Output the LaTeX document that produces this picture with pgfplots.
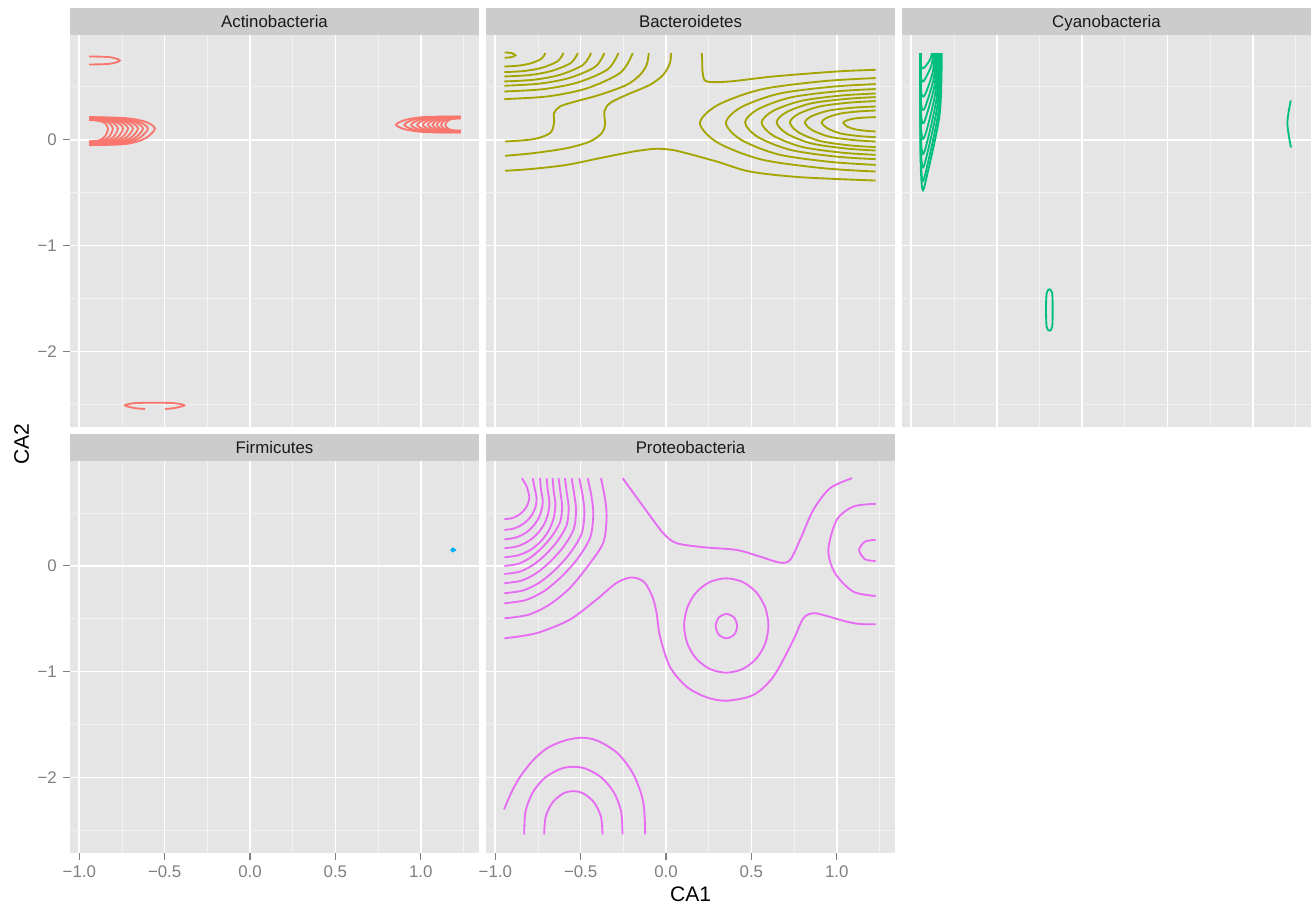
\documentclass[border=0pt]{standalone}
\usepackage{fontspec}
\setmainfont{Liberation Sans}
\usepackage{pgfplots}
\pgfplotsset{compat=1.18}
\definecolor{bg}{HTML}{E5E5E5}
\definecolor{stripc}{HTML}{CCCCCC}
\definecolor{minorg}{HTML}{F2F2F2}
\definecolor{tickc}{HTML}{7F7F7F}
\definecolor{cA}{HTML}{F8766D}
\definecolor{cB}{HTML}{A3A500}
\definecolor{cC}{HTML}{00BF7D}
\definecolor{cF}{HTML}{00B0F6}
\definecolor{cP}{HTML}{E76BF3}
\pgfplotsset{
 facet/.style={
  scale only axis, width=233.13pt, height=223.44pt,
  anchor=south west,
  xmin=-1.0545, xmax=1.3415, ymin=-2.712, ymax=0.994,
  axis background/.style={fill=bg},
  axis line style={draw=none},
  xtick={-1,-0.5,0,0.5,1}, ytick={-2,-1,0},
  minor xtick={-0.75,-0.25,0.25,0.75,1.25},
  minor ytick={-2.5,-1.5,-0.5,0.5},
  grid=both,
  major grid style={white, line width=0.95pt},
  minor grid style={minorg, line width=0.5pt},
  tick align=outside,
  major tick length=4pt, minor tick length=0pt,
  tick style={tickc, line width=0.6pt},
  tick pos=left,
  xticklabels={}, yticklabels={},
  ticklabel style={font=\fontsize{9.6}{11}\selectfont, text=tickc},
 },
 noxt/.style={xtick style={draw=none}},
 noyt/.style={ytick style={draw=none}},
 xlab/.style={xticklabels={−1.0,−0.5,0.0,0.5,1.0}},
 ylab/.style={yticklabels={−2,−1,0}},
 pA/.style={cA, smooth, no markers, line width=1.05pt},
 pB/.style={cB, smooth, no markers, line width=1.05pt},
 pC/.style={cC, smooth, no markers, line width=1.05pt},
 pP/.style={cP, smooth, no markers, line width=1.05pt},
}
\begin{document}
\begin{tikzpicture}
\useasboundingbox (0,0) rectangle (748.41pt,518.13pt);

% ---------------- Actinobacteria ----------------
\begin{axis}[facet, noxt, ylab, at={(39.9pt,274.91pt)}]
\addplot[pA] coordinates {(-0.943,0.788)(-0.82,0.781)(-0.762,0.75)(-0.82,0.719)(-0.943,0.712)};
\addplot[pA] coordinates {(-0.943,0.215)(-0.731,0.205)(-0.615,0.172)(-0.557,0.107)(-0.615,0.013)(-0.731,-0.040)(-0.943,-0.050)};
\addplot[pA] coordinates {(-0.943,0.212)(-0.753,0.202)(-0.650,0.170)(-0.598,0.107)(-0.650,0.015)(-0.753,-0.036)(-0.943,-0.046)};
\addplot[pA] coordinates {(-0.943,0.209)(-0.769,0.199)(-0.674,0.168)(-0.627,0.107)(-0.674,0.018)(-0.769,-0.032)(-0.943,-0.042)};
\addplot[pA] coordinates {(-0.943,0.206)(-0.785,0.196)(-0.699,0.166)(-0.656,0.107)(-0.699,0.020)(-0.785,-0.028)(-0.943,-0.038)};
\addplot[pA] coordinates {(-0.943,0.203)(-0.802,0.193)(-0.725,0.165)(-0.686,0.107)(-0.725,0.022)(-0.802,-0.024)(-0.943,-0.034)};
\addplot[pA] coordinates {(-0.943,0.200)(-0.818,0.190)(-0.749,0.163)(-0.715,0.107)(-0.749,0.025)(-0.818,-0.020)(-0.943,-0.030)};
\addplot[pA] coordinates {(-0.943,0.197)(-0.834,0.187)(-0.774,0.161)(-0.744,0.107)(-0.774,0.027)(-0.834,-0.016)(-0.943,-0.026)};
\addplot[pA] coordinates {(-0.943,0.194)(-0.850,0.184)(-0.799,0.159)(-0.774,0.107)(-0.799,0.030)(-0.850,-0.012)(-0.943,-0.022)};
\addplot[pA] coordinates {(-0.943,0.191)(-0.866,0.181)(-0.824,0.157)(-0.803,0.107)(-0.824,0.032)(-0.866,-0.008)(-0.943,-0.018)};
\addplot[pA] coordinates {(-0.943,0.188)(-0.882,0.178)(-0.849,0.156)(-0.832,0.107)(-0.849,0.034)(-0.882,-0.004)(-0.943,-0.014)};
\addplot[pA] coordinates {(1.234,0.220)(1.026,0.216)(0.912,0.189)(0.855,0.142)(0.912,0.098)(1.026,0.073)(1.234,0.069)};
\addplot[pA] coordinates {(1.234,0.218)(1.052,0.214)(0.953,0.188)(0.904,0.142)(0.953,0.099)(1.052,0.075)(1.234,0.071)};
\addplot[pA] coordinates {(1.234,0.216)(1.074,0.212)(0.987,0.186)(0.944,0.142)(0.987,0.100)(1.074,0.077)(1.234,0.073)};
\addplot[pA] coordinates {(1.234,0.214)(1.094,0.210)(1.017,0.185)(0.979,0.142)(1.017,0.102)(1.094,0.079)(1.234,0.075)};
\addplot[pA] coordinates {(1.234,0.212)(1.112,0.208)(1.045,0.184)(1.012,0.142)(1.045,0.103)(1.112,0.081)(1.234,0.077)};
\addplot[pA] coordinates {(1.234,0.210)(1.128,0.206)(1.071,0.183)(1.042,0.142)(1.071,0.104)(1.128,0.083)(1.234,0.079)};
\addplot[pA] coordinates {(1.234,0.208)(1.143,0.204)(1.094,0.182)(1.069,0.142)(1.094,0.105)(1.143,0.085)(1.234,0.081)};
\addplot[pA] coordinates {(1.234,0.206)(1.157,0.202)(1.115,0.180)(1.094,0.142)(1.115,0.107)(1.157,0.087)(1.234,0.083)};
\addplot[pA] coordinates {(1.234,0.204)(1.171,0.200)(1.136,0.179)(1.119,0.142)(1.136,0.108)(1.171,0.089)(1.234,0.085)};
\addplot[pA] coordinates {(1.234,0.202)(1.184,0.198)(1.157,0.178)(1.144,0.142)(1.157,0.109)(1.184,0.091)(1.234,0.087)};
\addplot[pA] coordinates {(-0.615,-2.545)(-0.68,-2.535)(-0.732,-2.51)(-0.68,-2.49)(-0.557,-2.485)(-0.44,-2.49)(-0.385,-2.51)(-0.44,-2.535)(-0.498,-2.545)};
\end{axis}

% ---------------- Bacteroidetes ----------------
\begin{axis}[facet, noxt, noyt, at={(277.02pt,274.91pt)}]
\addplot[pB] coordinates {(-0.945,0.826)(-0.905,0.820)(-0.882,0.800)(-0.905,0.782)(-0.945,0.776)};
\addplot[pB] coordinates {(-0.707,0.820)(-0.730,0.766)(-0.793,0.723)(-0.865,0.701)(-0.947,0.693)};
\addplot[pB] coordinates {(-0.601,0.820)(-0.634,0.744)(-0.725,0.682)(-0.829,0.651)(-0.947,0.640)};
\addplot[pB] coordinates {(-0.517,0.820)(-0.557,0.727)(-0.671,0.651)(-0.800,0.612)(-0.947,0.599)};
\addplot[pB] coordinates {(-0.439,0.820)(-0.487,0.707)(-0.620,0.615)(-0.773,0.568)(-0.947,0.552)};
\addplot[pB] coordinates {(-0.361,0.820)(-0.416,0.689)(-0.570,0.583)(-0.747,0.530)(-0.947,0.511)};
\addplot[pB] coordinates {(-0.279,0.820)(-0.342,0.666)(-0.517,0.542)(-0.719,0.479)(-0.947,0.457)};
\addplot[pB] coordinates {(-0.195,0.820)(-0.266,0.636)(-0.463,0.487)(-0.690,0.411)(-0.947,0.385)};
\addplot[pB] coordinates {(-0.101,0.820)(-0.113,0.710)(-0.152,0.615)(-0.230,0.520)(-0.387,0.426)(-0.543,0.357)(-0.621,0.315)(-0.656,0.253)(-0.656,0.158)(-0.680,0.063)(-0.777,0.006)(-0.943,-0.016)};
\addplot[pB] coordinates {(0.029,0.820)(0.023,0.725)(-0.016,0.615)(-0.094,0.520)(-0.230,0.426)(-0.328,0.347)(-0.361,0.268)(-0.357,0.142)(-0.377,0.063)(-0.445,-0.016)(-0.582,-0.079)(-0.777,-0.126)(-0.943,-0.151)};
\addplot[pB] coordinates {(-0.943,-0.293)(-0.777,-0.274)(-0.582,-0.237)(-0.387,-0.173)(-0.192,-0.111)(-0.074,-0.086)(0.004,-0.089)(0.082,-0.111)(0.297,-0.205)(0.492,-0.300)(0.785,-0.353)(1.228,-0.385)};
\addplot[pB] coordinates {(0.209,0.820)(0.212,0.757)(0.215,0.631)(0.238,0.552)(0.375,0.552)(0.629,0.599)(1.0,0.646)(1.228,0.662)};
\addplot[pB] coordinates {(1.228,0.584)(0.919,0.554)(0.559,0.477)(0.302,0.328)(0.199,0.157)(0.302,-0.026)(0.559,-0.186)(0.919,-0.268)(1.228,-0.300)};
\addplot[pB] coordinates {(1.228,0.527)(0.965,0.501)(0.658,0.435)(0.439,0.307)(0.351,0.160)(0.439,0.001)(0.658,-0.138)(0.965,-0.209)(1.228,-0.237)};
\addplot[pB] coordinates {(1.228,0.480)(0.999,0.458)(0.731,0.401)(0.540,0.290)(0.463,0.164)(0.540,0.025)(0.731,-0.096)(0.999,-0.159)(1.228,-0.183)};
\addplot[pB] coordinates {(1.228,0.438)(1.028,0.419)(0.794,0.369)(0.627,0.273)(0.560,0.163)(0.627,0.041)(0.794,-0.066)(1.028,-0.121)(1.228,-0.142)};
\addplot[pB] coordinates {(1.228,0.404)(1.054,0.387)(0.851,0.345)(0.706,0.262)(0.648,0.167)(0.706,0.060)(0.851,-0.034)(1.054,-0.082)(1.228,-0.101)};
\addplot[pB] coordinates {(1.228,0.366)(1.077,0.352)(0.902,0.316)(0.776,0.245)(0.726,0.164)(0.776,0.071)(0.902,-0.011)(1.077,-0.053)(1.228,-0.069)};
\addplot[pB] coordinates {(1.228,0.315)(1.104,0.305)(0.959,0.278)(0.855,0.225)(0.814,0.165)(0.855,0.093)(0.959,0.029)(1.104,-0.003)(1.228,-0.016)};
\addplot[pB] coordinates {(1.228,0.277)(1.133,0.269)(1.023,0.249)(0.944,0.210)(0.912,0.166)(0.944,0.110)(1.023,0.060)(1.133,0.035)(1.228,0.025)};
\addplot[pB] coordinates {(1.228,0.215)(1.171,0.211)(1.105,0.202)(1.058,0.183)(1.039,0.162)(1.058,0.129)(1.105,0.100)(1.171,0.085)(1.228,0.079)};
\end{axis}

% ---------------- Cyanobacteria ----------------
\begin{axis}[facet, noxt, noyt, at={(514.14pt,274.91pt)}]
\addplot[pC] coordinates {(-0.946,0.82)(-0.946,-0.145)(-0.935,-0.467)(-0.912,-0.364)(-0.834,0.241)(-0.822,0.82)};
\addplot[pC] coordinates {(-0.946,0.82)(-0.946,-0.078)(-0.935,-0.378)(-0.912,-0.282)(-0.840,0.281)(-0.828,0.82)};
\addplot[pC] coordinates {(-0.946,0.82)(-0.946,0.016)(-0.935,-0.252)(-0.912,-0.166)(-0.846,0.338)(-0.834,0.82)};
\addplot[pC] coordinates {(-0.946,0.82)(-0.946,0.111)(-0.935,-0.126)(-0.912,-0.050)(-0.852,0.394)(-0.840,0.82)};
\addplot[pC] coordinates {(-0.946,0.82)(-0.946,0.217)(-0.935,0.016)(-0.912,0.080)(-0.858,0.458)(-0.846,0.82)};
\addplot[pC] coordinates {(-0.946,0.82)(-0.946,0.324)(-0.935,0.158)(-0.915,0.211)(-0.863,0.522)(-0.851,0.82)};
\addplot[pC] coordinates {(-0.946,0.82)(-0.946,0.418)(-0.935,0.284)(-0.915,0.327)(-0.869,0.579)(-0.857,0.82)};
\addplot[pC] coordinates {(-0.946,0.82)(-0.946,0.513)(-0.935,0.410)(-0.915,0.443)(-0.875,0.636)(-0.863,0.82)};
\addplot[pC] coordinates {(-0.946,0.82)(-0.946,0.619)(-0.935,0.552)(-0.920,0.573)(-0.883,0.699)(-0.871,0.82)};
\addplot[pC] coordinates {(-0.946,0.82)(-0.946,0.714)(-0.935,0.678)(-0.920,0.689)(-0.891,0.756)(-0.879,0.82)};
\addplot[pC] coordinates {(1.223,0.372)(1.203,0.158)(1.224,-0.073)};
\addplot[pC, smooth cycle] coordinates {(-0.191,-1.413)(-0.175,-1.45)(-0.172,-1.608)(-0.175,-1.77)(-0.191,-1.804)(-0.207,-1.77)(-0.211,-1.608)(-0.207,-1.45)};
\end{axis}

% ---------------- Firmicutes ----------------
\begin{axis}[facet, xlab, ylab, at={(39.9pt,32.09pt)}]
\addplot[cF, fill=cF, no markers, line width=1.05pt, sharp plot] coordinates {(1.177,0.150)(1.189,0.164)(1.201,0.150)(1.189,0.136)(1.177,0.150)};
\end{axis}

% ---------------- Proteobacteria ----------------
\begin{axis}[facet, xlab, noyt, at={(277.02pt,32.09pt)}]
\addplot[pP] coordinates {(-0.844,0.828)(-0.817,0.752)(-0.801,0.655)(-0.806,0.600)(-0.821,0.548)(-0.844,0.504)(-0.874,0.470)(-0.909,0.448)(-0.947,0.441)};
\addplot[pP] coordinates {(-0.781,0.828)(-0.770,0.738)(-0.758,0.636)(-0.764,0.559)(-0.783,0.488)(-0.813,0.427)(-0.852,0.380)(-0.898,0.350)(-0.947,0.340)};
\addplot[pP] coordinates {(-0.738,0.828)(-0.733,0.728)(-0.722,0.617)(-0.730,0.522)(-0.752,0.434)(-0.788,0.358)(-0.834,0.300)(-0.889,0.263)(-0.947,0.251)};
\addplot[pP] coordinates {(-0.699,0.828)(-0.693,0.718)(-0.683,0.598)(-0.692,0.486)(-0.718,0.382)(-0.760,0.293)(-0.815,0.224)(-0.879,0.181)(-0.947,0.166)};
\addplot[pP] coordinates {(-0.664,0.828)(-0.658,0.708)(-0.648,0.579)(-0.658,0.450)(-0.688,0.330)(-0.736,0.227)(-0.797,0.148)(-0.870,0.098)(-0.947,0.081)};
\addplot[pP] coordinates {(-0.629,0.828)(-0.619,0.699)(-0.609,0.560)(-0.620,0.415)(-0.669,0.279)(-0.732,0.163)(-0.798,0.074)(-0.868,0.018)(-0.947,-0.001)};
\addplot[pP] coordinates {(-0.592,0.828)(-0.581,0.689)(-0.570,0.541)(-0.583,0.381)(-0.637,0.232)(-0.707,0.104)(-0.781,0.006)(-0.859,-0.056)(-0.947,-0.077)};
\addplot[pP] coordinates {(-0.553,0.828)(-0.538,0.680)(-0.527,0.523)(-0.541,0.345)(-0.601,0.179)(-0.680,0.037)(-0.762,-0.072)(-0.849,-0.141)(-0.947,-0.164)};
\addplot[pP] coordinates {(-0.508,0.828)(-0.489,0.670)(-0.478,0.504)(-0.494,0.306)(-0.561,0.122)(-0.648,-0.035)(-0.740,-0.157)(-0.838,-0.233)(-0.947,-0.259)};
\addplot[pP] coordinates {(-0.459,0.828)(-0.437,0.660)(-0.426,0.485)(-0.444,0.268)(-0.519,0.065)(-0.616,-0.108)(-0.717,-0.242)(-0.825,-0.325)(-0.947,-0.354)};
\addplot[pP] coordinates {(-0.381,0.828)(-0.359,0.651)(-0.348,0.466)(-0.368,0.217)(-0.464,-0.015)(-0.566,-0.214)(-0.683,-0.367)(-0.807,-0.463)(-0.947,-0.496)};
\addplot[pP] coordinates {(-0.947,-0.685)(-0.762,-0.638)(-0.567,-0.512)(-0.410,-0.323)(-0.293,-0.165)(-0.205,-0.110)(-0.130,-0.150)(-0.080,-0.290)(-0.055,-0.450)(-0.035,-0.670)(0.023,-0.954)(0.121,-1.143)(0.238,-1.243)(0.356,-1.275)(0.511,-1.221)(0.629,-1.048)(0.746,-0.701)(0.804,-0.496)(0.863,-0.448)(0.941,-0.474)(1.059,-0.528)(1.137,-0.550)(1.228,-0.553)};
\addplot[pP] coordinates {(-0.254,0.829)(-0.133,0.560)(-0.016,0.308)(0.063,0.214)(0.219,0.176)(0.414,0.150)(0.551,0.087)(0.668,0.030)(0.727,0.056)(0.785,0.245)(0.863,0.529)(0.961,0.734)(1.091,0.829)};
\addplot[pP, smooth cycle] coordinates {(0.600,-0.564)(0.581,-0.393)(0.528,-0.249)(0.448,-0.152)(0.353,-0.118)(0.258,-0.152)(0.178,-0.249)(0.125,-0.393)(0.106,-0.564)(0.125,-0.735)(0.178,-0.879)(0.258,-0.976)(0.353,-1.010)(0.448,-0.976)(0.528,-0.879)(0.581,-0.735)};
\addplot[pP, smooth cycle] coordinates {(0.417,-0.570)(0.399,-0.489)(0.354,-0.455)(0.309,-0.489)(0.291,-0.570)(0.309,-0.651)(0.354,-0.685)(0.399,-0.651)};
\addplot[pP] coordinates {(1.228,0.586)(1.097,0.560)(1.0,0.434)(0.951,0.150)(0.990,-0.070)(1.097,-0.244)(1.228,-0.285)};
\addplot[pP] coordinates {(1.228,0.245)(1.166,0.229)(1.131,0.150)(1.166,0.062)(1.228,0.046)};
\addplot[pP] coordinates {(-0.949,-2.303)(-0.905,-2.140)(-0.855,-1.994)(-0.780,-1.840)(-0.699,-1.726)(-0.600,-1.655)(-0.500,-1.625)(-0.402,-1.653)(-0.282,-1.774)(-0.189,-1.977)(-0.133,-2.236)(-0.122,-2.539)};
\addplot[pP] coordinates {(-0.831,-2.539)(-0.823,-2.322)(-0.781,-2.143)(-0.709,-2.003)(-0.618,-1.919)(-0.543,-1.900)(-0.468,-1.919)(-0.377,-2.003)(-0.305,-2.143)(-0.263,-2.322)(-0.255,-2.539)};
\addplot[pP] coordinates {(-0.714,-2.539)(-0.705,-2.373)(-0.665,-2.238)(-0.602,-2.152)(-0.543,-2.130)(-0.484,-2.152)(-0.421,-2.238)(-0.381,-2.373)(-0.372,-2.539)};
\end{axis}

% ---------------- strips ----------------
\fill[stripc] (39.9pt,498.35pt) rectangle ++(233.13pt,15.22pt);
\fill[stripc] (277.02pt,498.35pt) rectangle ++(233.13pt,15.22pt);
\fill[stripc] (514.14pt,498.35pt) rectangle ++(233.13pt,15.22pt);
\fill[stripc] (39.9pt,255.53pt) rectangle ++(233.13pt,15.22pt);
\fill[stripc] (277.02pt,255.53pt) rectangle ++(233.13pt,15.22pt);
\begin{scope}[every node/.style={font=\fontsize{9.6}{11}\selectfont, text=black!90, anchor=base, inner sep=0pt}]
\node at (156.47pt,502.52pt) {Actinobacteria};
\node at (393.59pt,502.52pt) {Bacteroidetes};
\node at (630.71pt,502.52pt) {Cyanobacteria};
\node at (156.47pt,259.70pt) {Firmicutes};
\node at (393.59pt,259.70pt) {Proteobacteria};
\end{scope}
\node[font=\fontsize{12}{14}\selectfont] at (393.6pt,8.55pt) {CA1};
\node[font=\fontsize{12}{14}\selectfont, rotate=90] at (12.37pt,265.05pt) {CA2};
\end{tikzpicture}
\end{document}
